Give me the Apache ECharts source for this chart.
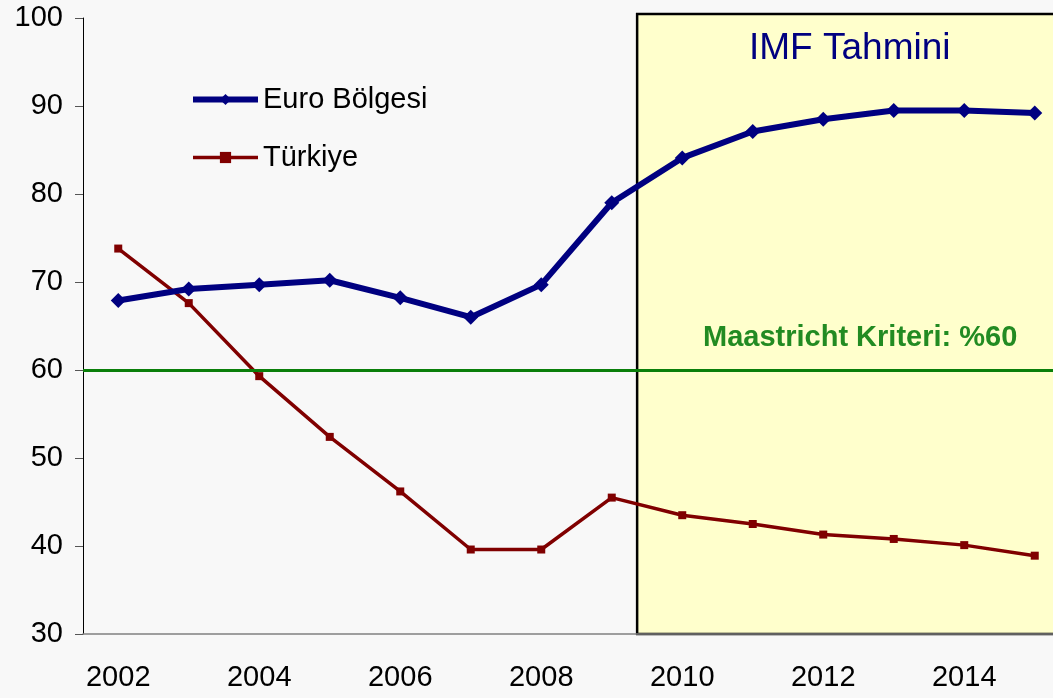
<!DOCTYPE html>
<html>
<head>
<meta charset="utf-8">
<script src="https://cdn.jsdelivr.net/npm/echarts@6/dist/echarts.min.js"></script>
<style>
  html, body { margin: 0; padding: 0; background: #f8f8f8; overflow: hidden; }
  /* the original plot runs past the right edge of the picture */
  #chart { width: 1070px; height: 698px; }
</style>
</head>
<body>
<div id="chart"></div>
<script>
var years = ['2002', '2003', '2004', '2005', '2006', '2007', '2008', '2009', '2010', '2011', '2012', '2013', '2014', '2015']
var euroArea = [67.9, 69.2, 69.7, 70.2, 68.2, 66.0, 69.7, 79.0, 84.1, 87.1, 88.5, 89.5, 89.5, 89.2]
var turkey = [73.8, 67.6, 59.3, 52.4, 46.2, 39.6, 39.6, 45.5, 43.5, 42.5, 41.3, 40.8, 40.1, 38.9]
var criterion = 60
// forecast box starts just before the 2010 band (position on a 0..14 band scale)
var forecastStart = 7.86

var chart = echarts.init(document.getElementById('chart'))
var font = 'Liberation Sans, Arial, sans-serif'

var option = {
  backgroundColor: '#f8f8f8',
  animation: false,
  textStyle: { fontFamily: font },
  title: [
    {
      text: 'IMF Tahmini',
      left: 744, top: 25,
      textStyle: { fontFamily: font, fontSize: 37, fontWeight: 'normal', color: '#000080' }
    },
    {
      text: 'Maastricht Kriteri: %60',
      left: 698, top: 318,
      textStyle: { fontFamily: font, fontSize: 29, fontWeight: 'bold', color: '#228b22' }
    }
  ],
  legend: {
    orient: 'vertical',
    left: 185, top: 80,
    itemWidth: 65,
    itemHeight: 14,
    itemGap: 29,
    textStyle: { fontFamily: font, fontSize: 29, color: '#000', lineHeight: 28 },
    data: [
      { name: 'Euro Bölgesi', lineStyle: { width: 6 } },
      { name: 'Türkiye', lineStyle: { width: 3.5 } }
    ]
  },
  grid: { left: 83, top: 18, bottom: 64, right: 0, containLabel: false },
  xAxis: [
    {
      type: 'category',
      data: years,
      boundaryGap: true,
      axisLine: { lineStyle: { color: '#808080', width: 1.5 } },
      axisTick: { interval: 0, length: 8, lineStyle: { color: '#808080', width: 1.5 } },
      axisLabel: { interval: 1, margin: 29, fontSize: 29, color: '#000', fontFamily: font }
    },
    {
      type: 'value', min: 0, max: 14, show: false
    }
  ],
  yAxis: {
    type: 'value',
    min: 30, max: 100, interval: 10,
    axisLine: { show: true, lineStyle: { color: '#000', width: 1 } },
    axisTick: { show: true, length: 8, lineStyle: { color: '#555', width: 1 } },
    axisLabel: { margin: 20, fontSize: 29, color: '#000', fontFamily: font },
    splitLine: { show: false }
  },
  series: [
    {
      name: 'Euro Bölgesi',
      type: 'line',
      data: euroArea,
      symbol: 'diamond',
      symbolSize: 15,
      z: 4,
      lineStyle: { color: '#000080', width: 6 },
      itemStyle: { color: '#000080' }
    },
    {
      name: 'Türkiye',
      type: 'line',
      data: turkey,
      symbol: 'rect',
      symbolSize: 8,
      z: 3,
      lineStyle: { color: '#800000', width: 3.5 },
      itemStyle: { color: '#800000' },
      markLine: {
        symbol: 'none',
        silent: true,
        label: { show: false },
        lineStyle: { color: '#0a7f0a', width: 3, type: 'solid' },
        data: [{ yAxis: criterion }]
      }
    }
  ]
}

chart.setOption(option)

// shaded forecast box, placed through the chart's own scales
var topLeft = chart.convertToPixel({ xAxisIndex: 1, yAxisIndex: 0 }, [forecastStart, 100.45])
var bottomRight = chart.convertToPixel({ xAxisIndex: 1, yAxisIndex: 0 }, [14.3, 30])
chart.setOption({
  graphic: [{
    type: 'rect',
    z: 0,
    shape: {
      x: topLeft[0], y: topLeft[1],
      width: bottomRight[0] - topLeft[0], height: bottomRight[1] - topLeft[1]
    },
    style: { fill: '#ffffcc', stroke: '#000', lineWidth: 2.5 }
  }]
})
</script>
</body>
</html>
